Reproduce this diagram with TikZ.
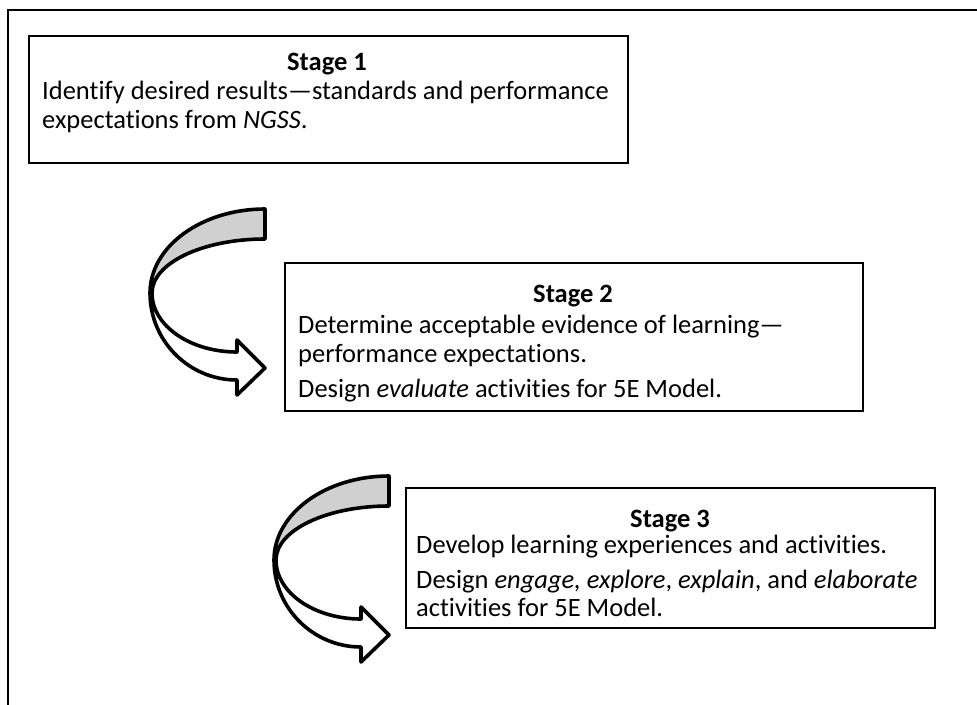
\documentclass[tikz,border=0pt]{standalone}
\usepackage{fontspec}
\setmainfont{Carlito}[Ligatures={NoCommon}]
\definecolor{bandgray}{HTML}{D0D0D0}
\begin{document}
\begin{tikzpicture}[x=1pt,y=-1pt,
  box/.style={draw=black, line width=1.8pt, fill=white, anchor=north west, inner sep=0pt},
  txt/.style={font=\fontsize{26.5}{30}\selectfont, inner sep=0pt, anchor=base west},
  ttl/.style={font=\fontsize{26.5}{30}\selectfont\bfseries, inner sep=0pt, anchor=base},
  arrowpart/.style={draw=black, line width=3.6pt, line join=round},
  curlarrow/.pic={
    \path[arrowpart, fill=bandgray] (115,-84) arc[start angle=270, end angle=180, x radius=115, y radius=84]
      -- (2,0) arc[start angle=180, end angle=270, x radius=113, y radius=54] -- cycle;
    \path[arrowpart, fill=white] (0,0) arc[start angle=180, end angle=90, x radius=87, y radius=87]
      -- (87,102) -- (115,75) -- (87,47) -- (87,59)
      arc[start angle=90, end angle=180, x radius=85, y radius=59] -- cycle;
  }]
\useasboundingbox (0,0) rectangle (977,704);
\clip (0,0) rectangle (977,704);
\draw[line width=2pt] (8,720) -- (8,10) -- (990,10);

\node[box, minimum width=599pt, minimum height=127pt] (s1) at (28,35) {};
\node[ttl] (s1t) at (327,70) {Stage 1};
\node[txt] (s1a) at (42,99) {Identify desired results—standards and performance};
\node[txt] (s1b) at (42,128) {expectations from \textit{NGSS}.};

\pic (a1) at (150,293) {curlarrow};

\node[box, minimum width=578pt, minimum height=148pt] (s2) at (284,262) {};
\node[ttl] (s2t) at (573,302) {Stage 2};
\node[txt] (s2a) at (298,333) {Determine acceptable evidence of learning—};
\node[txt] (s2b) at (298,362) {performance expectations.};
\node[txt] (s2c) at (298,397) {Design \textit{evaluate} activities for 5E Model.};

\pic (a2) at (274,560) {curlarrow};

\node[box, minimum width=529pt, minimum height=140pt] (s3) at (405,487) {};
\node[ttl] (s3t) at (670,527) {Stage 3};
\node[txt] (s3a) at (416,553) {Develop learning experiences and activities.};
\node[txt] (s3b) at (416,588) {Design \textit{engage,} \textit{explore}, \textit{explain}, and \textit{elaborate}};
\node[txt] (s3c) at (416,616) {activities for 5E Model.};
\end{tikzpicture}
\end{document}
